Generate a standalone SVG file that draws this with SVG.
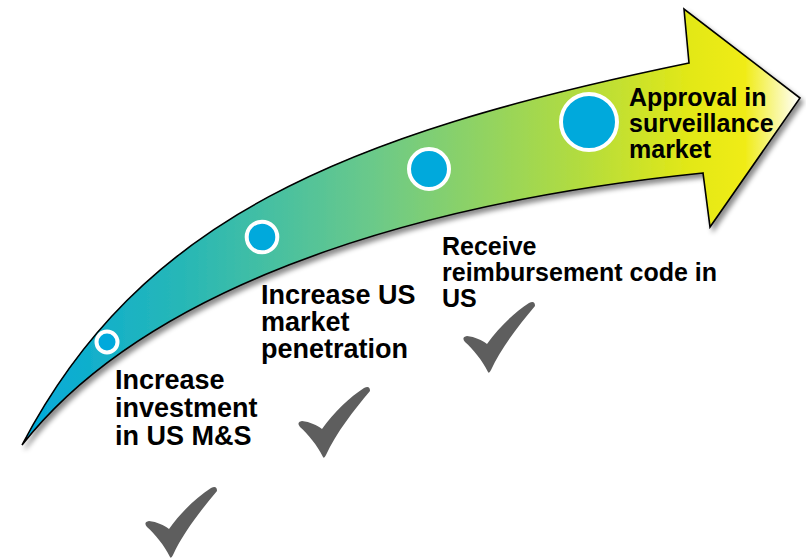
<svg xmlns="http://www.w3.org/2000/svg" width="806" height="560" viewBox="0 0 806 560">
  <defs>
    <linearGradient id="bandFill" x1="20" y1="0" x2="800" y2="0" gradientUnits="userSpaceOnUse">
      <stop offset="0" stop-color="#00a9dc"/>
      <stop offset="0.22" stop-color="#2ab8b4"/>
      <stop offset="0.45" stop-color="#6ac98a"/>
      <stop offset="0.72" stop-color="#b3dc3e"/>
      <stop offset="0.86" stop-color="#e3e816"/>
      <stop offset="0.93" stop-color="#f0ec18"/>
      <stop offset="1" stop-color="#ffffff"/>
    </linearGradient>
    <filter id="softShadow" x="-5%" y="-5%" width="115%" height="120%">
      <feDropShadow dx="3" dy="4" stdDeviation="2.5" flood-color="#000" flood-opacity="0.45"/>
    </filter>
    <path id="tick" d="M0,0 C-6,-12 -15,-23 -23,-30 Q-27,-35 -21,-36 C-13,-35 -6,-32 -1,-28 C11,-45 27,-60 41,-69 Q47,-72 47,-66 C31,-47 13,-24 3,-2 Q1,2 0,0 Z"/>
    <style>
      .label { font-family: "Liberation Sans", Arial, sans-serif; font-weight: bold; fill: #000; }
      .big { font-size: 27px; }
      .mid { font-size: 25px; }
      .dot { fill: #00a9dc; stroke: #ffffff; stroke-width: 4; }
      .tick { fill: #5e5e5e; }
    </style>
  </defs>

  <rect width="806" height="560" fill="#ffffff"/>

  <!-- curved growth arrow -->
  <g id="arrow">
    <path d="M22,445 C140,220 340,135 689,63 L684,9 L800,98 L710,227 L703,173 C390,205 140,295 22,445 Z"
          fill="url(#bandFill)" stroke="#000" stroke-width="1.6" stroke-linejoin="miter" filter="url(#softShadow)"/>
  </g>

  <!-- milestone markers along the arrow -->
  <g id="milestone-1"><circle class="dot" cx="107" cy="342" r="10.5"/></g>
  <g id="milestone-2"><circle class="dot" cx="262" cy="237" r="15.3"/></g>
  <g id="milestone-3"><circle class="dot" cx="429" cy="169" r="20"/></g>
  <g id="milestone-4"><circle class="dot" cx="589" cy="122" r="28"/></g>

  <!-- milestone labels -->
  <g id="label-1">
    <text class="label big" x="115" y="389">Increase</text>
    <text class="label big" x="115" y="417">investment</text>
    <text class="label big" x="115" y="445">in US M&amp;S</text>
  </g>
  <g id="label-2">
    <text class="label big" x="261" y="304">Increase US</text>
    <text class="label big" x="261" y="331">market</text>
    <text class="label big" x="261" y="358">penetration</text>
  </g>
  <g id="label-3">
    <text class="label mid" x="442" y="255">Receive</text>
    <text class="label mid" x="442" y="281">reimbursement code in</text>
    <text class="label mid" x="442" y="307">US</text>
  </g>
  <g id="label-4">
    <text class="label mid" x="629" y="106">Approval in</text>
    <text class="label mid" x="629" y="132">surveillance</text>
    <text class="label mid" x="629" y="158">market</text>
  </g>

  <!-- completed check marks -->
  <g id="check-1"><use href="#tick" class="tick" transform="translate(170,557)"/></g>
  <g id="check-2"><use href="#tick" class="tick" transform="translate(323,457)"/></g>
  <g id="check-3"><use href="#tick" class="tick" transform="translate(488,372)"/></g>
</svg>
